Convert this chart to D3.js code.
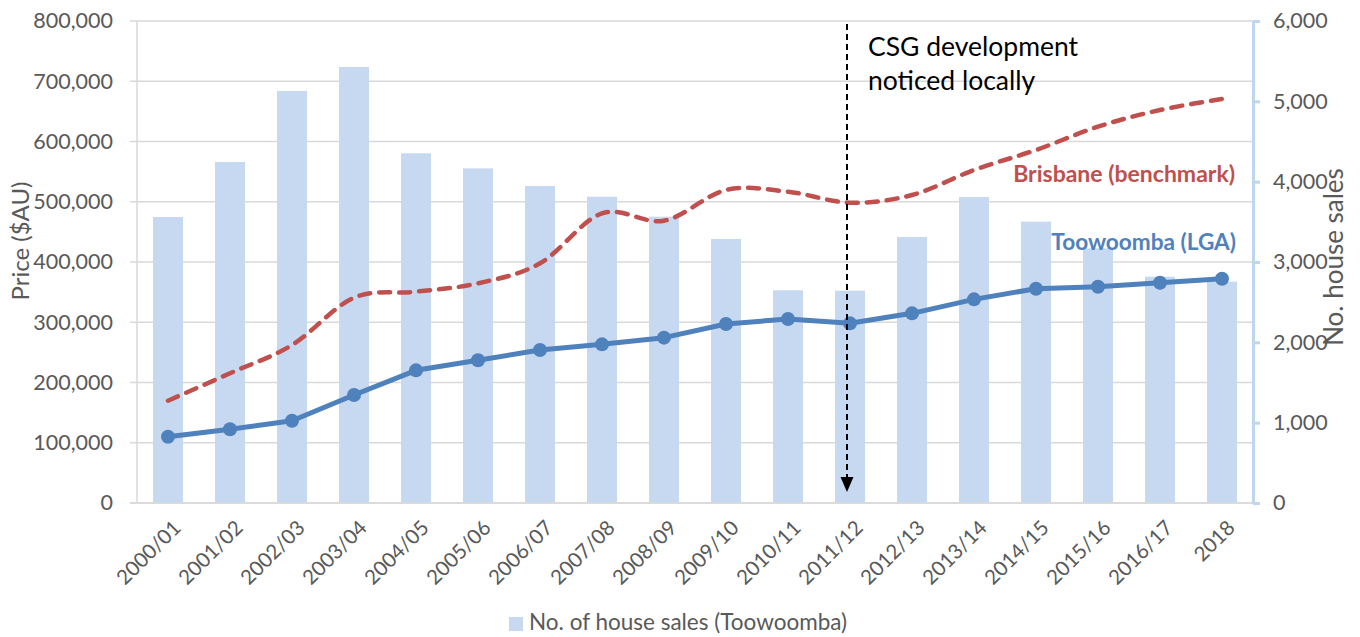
<!DOCTYPE html>
<html><head><meta charset="utf-8">
<script src="https://cdn.jsdelivr.net/npm/d3@7"></script>
<style>
html,body{margin:0;padding:0;background:#fff;}
svg{display:block;font-family:Lato,"Open Sans",sans-serif;}
</style></head>
<body><svg id="c" width="1360" height="637"></svg>
<script>
const categories = ["2000/01","2001/02","2002/03","2003/04","2004/05","2005/06","2006/07","2007/08","2008/09","2009/10","2010/11","2011/12","2012/13","2013/14","2014/15","2015/16","2016/17","2018"];
const houseSales = [3560,4245,5129,5428,4353,4166,3946,3813,3564,3286,2648,2643,3311,3809,3502,3170,2817,2755];
const toowoombaPrice = [110000,122300,136600,179300,220200,237000,254000,263300,274400,297100,305400,298200,314800,338000,355700,359000,365600,372300];
const brisbanePrice = [169800,215300,262200,340700,350700,364600,397800,480800,468500,519500,516700,498400,511200,552700,585900,624600,652300,670500];
const leftTicks = [0,100000,200000,300000,400000,500000,600000,700000,800000];
const rightTicks = [0,1000,2000,3000,4000,5000,6000];
const eventCategory = "2011/12";
const annotationLines = ["CSG development","noticed locally"];
const legendLabel = "No. of house sales (Toowoomba)";

const svg = d3.select("#c");
const L = 137, R = 1253, T = 21, B = 503;
const x = d3.scaleBand().domain(categories).range([L,R]).paddingInner(0.516).paddingOuter(0.258);
const cx = c => x(c) + x.bandwidth()/2;
const yL = d3.scaleLinear().domain([0,800000]).range([B,T]);
const yR = d3.scaleLinear().domain([0,6000]).range([B,T]);
const fmt = d3.format(",");
const txt = "#595959";

// gridlines
svg.append("g").selectAll("line").data(leftTicks).join("line")
  .attr("x1",130).attr("x2",R).attr("y1",d=>yL(d)).attr("y2",d=>yL(d))
  .attr("stroke","#d9d9d9").attr("stroke-width",1.5);
// left axis line
svg.append("line").attr("x1",L).attr("x2",L).attr("y1",T).attr("y2",B)
  .attr("stroke","#d9d9d9").attr("stroke-width",1.5);

// left axis labels
const gl = svg.append("g").attr("transform",`translate(${L},0)`)
  .call(d3.axisLeft(yL).tickValues(leftTicks).tickFormat(fmt).tickSize(0).tickPadding(24));
gl.select(".domain").remove();
gl.selectAll("text").attr("fill",txt).style("font-size","21.5px").style("font-family","Lato");

// bars
svg.append("g").selectAll("rect").data(categories).join("rect")
  .attr("x",d=>x(d)).attr("width",x.bandwidth())
  .attr("y",(d,i)=>yR(houseSales[i])).attr("height",(d,i)=>B-yR(houseSales[i]))
  .attr("fill","#c6d9f1");

// bottom axis line
svg.append("line").attr("x1",130).attr("x2",R).attr("y1",B).attr("y2",B)
  .attr("stroke","#d9d9d9").attr("stroke-width",1.5);

// right axis
const gr = svg.append("g").attr("transform",`translate(${R},0)`)
  .call(d3.axisRight(yR).tickValues(rightTicks).tickFormat(fmt).tickSize(7).tickPadding(13).tickSizeOuter(0));
gr.select(".domain").attr("stroke","#bdd7ee").attr("stroke-width",3);
gr.selectAll(".tick line").attr("stroke","#bdd7ee").attr("stroke-width",3);
gr.selectAll("text").attr("fill",txt).style("font-size","21.5px").style("font-family","Lato");

// x labels
svg.append("g").selectAll("text").data(categories).join("text")
  .attr("transform",d=>`translate(${cx(d)+9},${B+21}) rotate(-45)`)
  .attr("text-anchor","end").attr("dy","0.35em")
  .attr("fill",txt).style("font-size","20.5px").text(d=>d);

// Brisbane dashed smooth line
const lineB = d3.line().x((d,i)=>cx(categories[i])).y(d=>yL(d)).curve(d3.curveCardinal.tension(0));
svg.append("path").datum(brisbanePrice).attr("d",lineB)
  .attr("fill","none").attr("stroke","#c0504d").attr("stroke-width",4.5)
  .attr("stroke-dasharray","11,9").attr("stroke-linecap","round");

// Toowoomba line
const lineT = d3.line().x((d,i)=>cx(categories[i])).y(d=>yL(d));
svg.append("path").datum(toowoombaPrice).attr("d",lineT)
  .attr("fill","none").attr("stroke","#4f81bd").attr("stroke-width",5).attr("stroke-linejoin","round");
svg.append("g").selectAll("circle").data(toowoombaPrice).join("circle")
  .attr("cx",(d,i)=>cx(categories[i])).attr("cy",d=>yL(d)).attr("r",7)
  .attr("fill","#4f81bd");

// annotation arrow
const ax = cx(eventCategory) - 3;
svg.append("line").attr("x1",ax).attr("x2",ax).attr("y1",24).attr("y2",478)
  .attr("stroke","#000").attr("stroke-width",2).attr("stroke-dasharray","6,4");
svg.append("path").attr("d",`M${ax-6.5},${477} L${ax+6.5},${477} L${ax},${492} Z`).attr("fill","#000");
svg.append("g").selectAll("text").data(annotationLines).join("text")
  .attr("x",868).attr("y",(d,i)=>56+i*34).attr("fill","#000")
  .style("font-size","26.5px").text(d=>d);

// series labels
svg.append("text").attr("x",1235).attr("y",182).attr("text-anchor","end")
  .attr("fill","#c0504d").style("font-size","23px").style("font-weight","bold").text("Brisbane (benchmark)");
svg.append("text").attr("x",1236).attr("y",250).attr("text-anchor","end")
  .attr("fill","#4f81bd").style("font-size","22.6px").style("font-weight","bold").text("Toowoomba (LGA)");

// axis titles
svg.append("text").attr("transform",`translate(29,241) rotate(-90)`).attr("text-anchor","middle")
  .attr("fill",txt).style("font-size","24px").text("Price ($AU)");
svg.append("text").attr("transform",`translate(1343,257) rotate(-90)`).attr("text-anchor","middle")
  .attr("fill",txt).style("font-size","26px").text("No. house sales");

// legend
svg.append("rect").attr("x",509).attr("y",617).attr("width",14).attr("height",14).attr("fill","#c6d9f1");
svg.append("text").attr("x",529).attr("y",630).attr("fill",txt).style("font-size","22.5px").text(legendLabel);
</script></body></html>
